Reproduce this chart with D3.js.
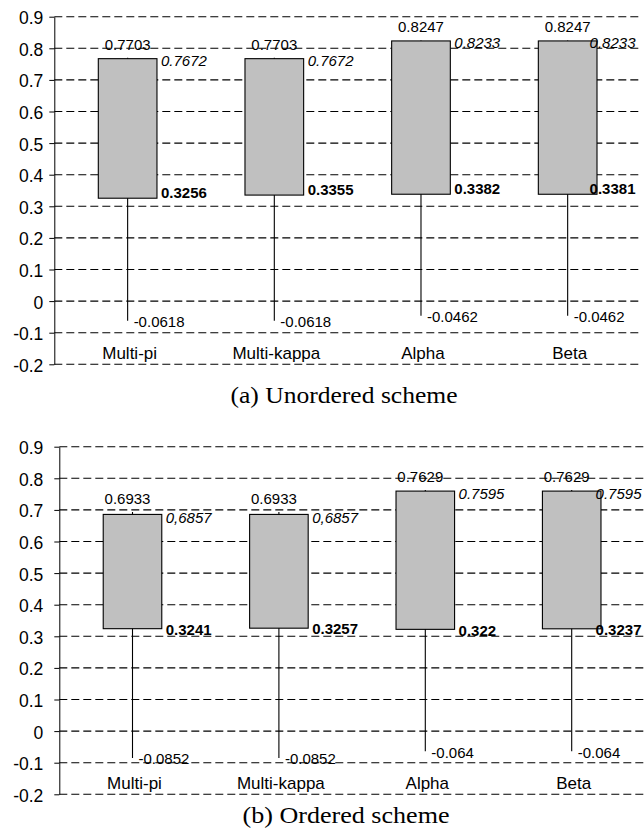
<!DOCTYPE html>
<html>
<head>
<meta charset="utf-8">
<script src="https://cdn.jsdelivr.net/npm/d3@7"></script>
<style>
  html, body { margin: 0; padding: 0; background: #fff; }
  svg { display: block; }
</style>
</head>
<body>
<svg id="chart" width="644" height="832"></svg>
<script>
// Agreement coefficients: high / upper / lower / low for each coefficient
const categories = ["Multi-pi", "Multi-kappa", "Alpha", "Beta"];

const yTicks = [0.9, 0.8, 0.7, 0.6, 0.5, 0.4, 0.3, 0.2, 0.1, 0, -0.1, -0.2];
const yTickLabels = ["0.9", "0.8", "0.7", "0.6", "0.5", "0.4", "0.3", "0.2", "0.1", "0", "-0.1", "-0.2"];

// (a) Unordered scheme
const unorderedHigh  = [0.7703, 0.7703, 0.8247, 0.8247];
const unorderedUpper = [0.7672, 0.7672, 0.8233, 0.8233];
const unorderedLower = [0.3256, 0.3355, 0.3382, 0.3381];
const unorderedLow   = [-0.0618, -0.0618, -0.0462, -0.0462];
const unorderedUpperText = ["0.7672", "0.7672", "0.8233", "0.8233"];

// (b) Ordered scheme
const orderedHigh  = [0.6933, 0.6933, 0.7629, 0.7629];
const orderedUpper = [0.6857, 0.6857, 0.7595, 0.7595];
const orderedLower = [0.3241, 0.3257, 0.322, 0.3237];
const orderedLow   = [-0.0852, -0.0852, -0.064, -0.064];
const orderedUpperText = ["0,6857", "0,6857", "0.7595", "0.7595"];

const svg = d3.select("#chart");
const sans = "'Liberation Sans', Arial, sans-serif";

function drawPanel(cfg) {
  const g = svg.append("g");
  const x = d3.scaleBand().domain(categories).range([cfg.x0, cfg.x1]).padding(0);
  const y = d3.scaleLinear().domain([-0.2, 0.9]).range([cfg.yBottom, cfg.yTop]);
  const bw = x.bandwidth();
  const boxW = bw * 0.4;
  const cx = c => x(c) + bw / 2;

  const rows = categories.map((c, i) => ({
    c, high: cfg.high[i], upper: cfg.upper[i], lower: cfg.lower[i], low: cfg.low[i],
    upperText: cfg.upperText[i]
  }));

  // dashed horizontal gridlines
  g.append("g").selectAll("line")
    .data(yTicks)
    .join("line")
    .attr("x1", cfg.x0).attr("x2", cfg.x1)
    .attr("y1", d => y(d)).attr("y2", d => y(d))
    .attr("stroke", "#000")
    .attr("stroke-width", 1.1)
    .attr("stroke-dasharray", "8,4");

  // value axis
  const axis = g.append("g")
    .attr("transform", `translate(${cfg.x0},0)`)
    .call(d3.axisLeft(y)
      .tickValues(yTicks)
      .tickFormat((d, i) => yTickLabels[i])
      .tickSize(5)
      .tickSizeOuter(0)
      .tickPadding(cfg.tickPadding));
  axis.select(".domain").attr("stroke", "#000");
  axis.selectAll(".tick line").attr("stroke", "#000");
  axis.selectAll(".tick text")
    .attr("font-family", sans)
    .attr("font-size", 17.5)
    .attr("fill", "#000")
    .attr("dy", "0.4em");

  // high-low whiskers
  g.append("g").selectAll("line")
    .data(rows)
    .join("line")
    .attr("x1", d => cx(d.c)).attr("x2", d => cx(d.c))
    .attr("y1", d => y(d.high)).attr("y2", d => y(d.low))
    .attr("stroke", "#000")
    .attr("stroke-width", 1.1);

  // upper-lower boxes
  g.append("g").selectAll("rect")
    .data(rows)
    .join("rect")
    .attr("x", d => cx(d.c) - boxW / 2)
    .attr("y", d => y(d.upper))
    .attr("width", boxW)
    .attr("height", d => y(d.lower) - y(d.upper))
    .attr("fill", "#c0c0c0")
    .attr("stroke", "#000")
    .attr("stroke-width", 1.1);

  const labels = g.append("g").attr("font-family", sans).attr("font-size", 15).attr("fill", "#000");

  // high values above the whisker
  labels.selectAll("text.high")
    .data(rows)
    .join("text")
    .attr("class", "high")
    .attr("x", d => cx(d.c) + cfg.highDx)
    .attr("y", d => y(d.high) - 8)
    .attr("text-anchor", "middle")
    .text(d => String(d.high));

  // keep right-side labels inside the plot
  const placeRight = sel => sel.attr("x", function(d) {
    const len = this.getComputedTextLength();
    return Math.min(cx(d.c) + boxW / 2 + 4, cfg.rightLimit - len);
  });

  // upper values (italic) beside the box top
  labels.selectAll("text.upper")
    .data(rows)
    .join("text")
    .attr("class", "upper")
    .attr("font-style", "italic")
    .attr("y", d => y(d.upper) + cfg.upperDy)
    .attr("dy", "0.35em")
    .text(d => d.upperText)
    .call(placeRight);

  // lower values (bold) beside the box bottom
  labels.selectAll("text.lower")
    .data(rows)
    .join("text")
    .attr("class", "lower")
    .attr("font-weight", "bold")
    .attr("y", d => y(d.lower) + cfg.lowerDy)
    .attr("dy", "0.35em")
    .text(d => String(d.lower))
    .call(placeRight);

  // low values beside the whisker end
  labels.selectAll("text.low")
    .data(rows)
    .join("text")
    .attr("class", "low")
    .attr("x", d => cx(d.c) + 6)
    .attr("y", d => y(d.low) + 1)
    .attr("dy", "0.35em")
    .text(d => String(d.low));

  // category names
  g.append("g").selectAll("text")
    .data(categories)
    .join("text")
    .attr("x", d => cx(d) + 2)
    .attr("y", y(-0.2) - 5)
    .attr("text-anchor", "middle")
    .attr("font-family", sans)
    .attr("font-size", 17)
    .attr("fill", "#000")
    .text(d => d);

  // panel caption
  svg.append("text")
    .attr("x", cfg.captionX)
    .attr("y", cfg.captionY)
    .attr("text-anchor", "middle")
    .attr("font-family", "'Liberation Serif', 'Times New Roman', serif")
    .attr("font-size", 24)
    .attr("textLength", cfg.captionWidth)
    .attr("lengthAdjust", "spacingAndGlyphs")
    .attr("fill", "#000")
    .text(cfg.caption);
}

drawPanel({
  x0: 54.3, x1: 641, yTop: 16.7, yBottom: 364.3,
  tickPadding: 6, highDx: 0, upperDy: 2, lowerDy: -5.5, rightLimit: 635.5,
  high: unorderedHigh, upper: unorderedUpper, lower: unorderedLower, low: unorderedLow,
  upperText: unorderedUpperText,
  caption: "(a) Unordered scheme", captionX: 344, captionY: 402.5, captionWidth: 227
});

drawPanel({
  x0: 59.3, x1: 644.9, yTop: 446.7, yBottom: 794.3,
  tickPadding: 11, highDx: -5, upperDy: 3, lowerDy: 1, rightLimit: 641.5,
  high: orderedHigh, upper: orderedUpper, lower: orderedLower, low: orderedLow,
  upperText: orderedUpperText,
  caption: "(b) Ordered scheme", captionX: 346, captionY: 822.5, captionWidth: 207
});
</script>
</body>
</html>
